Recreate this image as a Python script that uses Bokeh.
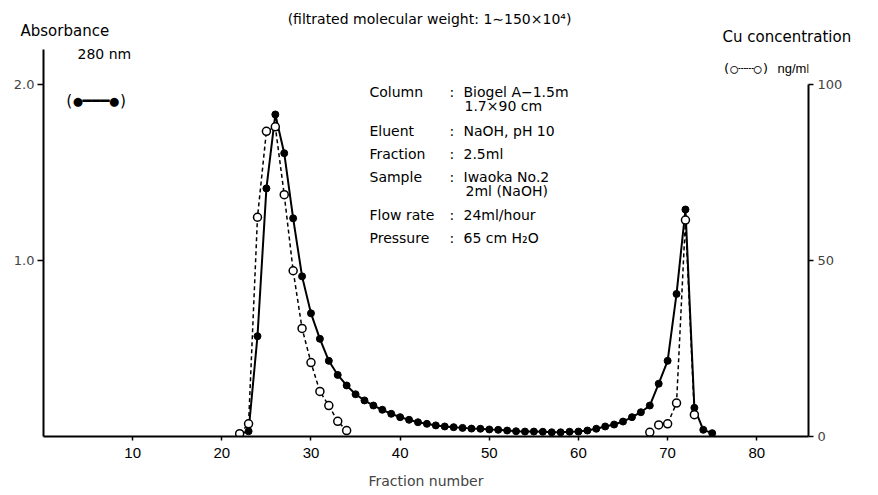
import math
from bokeh.plotting import figure
from bokeh.models import Range1d, LinearAxis, FixedTicker, Label, Title
from bokeh.embed import file_html
from bokeh.resources import INLINE

# ---------------- data ----------------
fractions = list(range(22, 76))
absorbance = [0.015, 0.03, 0.57, 1.41, 1.83, 1.61, 1.24, 0.91, 0.70, 0.555,
              0.43, 0.35, 0.29, 0.24, 0.205, 0.176, 0.152, 0.129, 0.11, 0.095,
              0.081, 0.072, 0.063, 0.057, 0.053, 0.049, 0.045, 0.044, 0.040, 0.038,
              0.034, 0.030, 0.028, 0.028, 0.027, 0.024, 0.024, 0.027, 0.028, 0.034,
              0.044, 0.057, 0.068, 0.085, 0.11, 0.138, 0.176, 0.30, 0.43, 0.81,
              1.29, 0.163, 0.038, 0.019]
cu_fractions = [22, 23, 24, 25, 26, 27, 28, 29, 30, 31, 32, 33, 34,
                68, 69, 70, 71, 72, 73]
cu_conc = [0.8, 3.6, 62.3, 86.7, 88.0, 68.7, 47.1, 30.7, 21.0, 12.8, 8.8, 4.3, 1.7,
           1.2, 3.3, 3.6, 9.5, 61.5, 6.2]

x_ticks = [10, 20, 30, 40, 50, 60, 70, 80]
abs_ticks = [1.0, 2.0]
cu_ticks = [0, 50, 100]

# ---------------- layout ----------------
W, H = 878, 495
FL, FR, FT, FB = 43, 808, 45, 436
X_END = 85.8
Y_END = 2.222
CU_END = 111.1

p = figure(width=W, height=H, output_backend="svg", toolbar_location=None,
           title=None,
           x_range=Range1d(0, X_END), y_range=Range1d(0, Y_END),
           min_border_left=FL, min_border_right=W - FR,
           min_border_top=FT, min_border_bottom=H - FB)
p.extra_y_ranges = {"cu": Range1d(0, CU_END)}
p.background_fill_color = "white"
p.border_fill_color = "white"
p.outline_line_color = None
p.xgrid.visible = False
p.ygrid.visible = False

TICK_FONT = "DejaVu Sans"

xa = p.xaxis[0]
xa.ticker = FixedTicker(ticks=x_ticks)
xa.axis_line_width = 2
xa.major_tick_line_width = 1.5
xa.major_tick_in = 0
xa.major_tick_out = 4
xa.minor_tick_line_color = None
xa.major_label_standoff = 7
xa.major_label_text_font = "Liberation Sans"
xa.major_label_text_font_size = "15px"
xa.major_label_text_color = "black"
xa.axis_label = "Fraction number"
xa.axis_label_text_font = "DejaVu Sans"
xa.axis_label_text_font_size = "14px"
xa.axis_label_text_font_style = "normal"
xa.axis_label_standoff = 12

ya = p.yaxis[0]
ya.ticker = FixedTicker(ticks=abs_ticks)
ya.bounds = (0, 2.2)
ya.axis_line_width = 2
ya.major_tick_line_width = 1.5
ya.major_tick_in = 0
ya.major_tick_out = 6
ya.minor_tick_line_color = None
ya.major_label_standoff = 3
ya.major_label_text_font = TICK_FONT
ya.major_label_text_font_size = "13px"
ya.major_label_overrides = {1.0: "1.0", 2.0: "2.0"}

ra = LinearAxis(y_range_name="cu", ticker=FixedTicker(ticks=cu_ticks))
ra.bounds = (0, 100)
ra.axis_line_width = 2
ra.major_tick_line_width = 1.5
ra.major_tick_in = 0
ra.major_tick_out = 5
ra.minor_tick_line_color = None
ra.major_label_standoff = 4
ra.major_label_text_font = TICK_FONT
ra.major_label_text_font_size = "13px"
p.add_layout(ra, "right")

# ---------------- series ----------------
p.line(fractions, absorbance, line_color="black", line_width=2)

seg_x, seg_y = [[]], [[]]
for i, (f, c) in enumerate(zip(cu_fractions, cu_conc)):
    if i > 0 and f - cu_fractions[i - 1] > 1:
        seg_x.append([])
        seg_y.append([])
    seg_x[-1].append(f)
    seg_y[-1].append(c)
p.multi_line(seg_x, seg_y, line_color="black", line_width=1.5,
             line_dash="4 3", y_range_name="cu")

p.scatter(fractions, absorbance, size=7, fill_color="black", line_color="black")
p.scatter(cu_fractions, cu_conc, size=8, fill_color="white", line_color="black",
          line_width=1.5, y_range_name="cu")

# ---------------- texts above the frame (top panel, stacked from the frame) ----------------
# row 1: Cu concentration (title, top-aligned, ~14 px row)
p.add_layout(Title(text="Cu concentration", align="left", offset=722 - FL,
                   vertical_align="top", standoff=-5,
                   text_font="DejaVu Sans", text_font_size="15px",
                   text_font_style="normal", text_color="black"), "above")
# row 2: Absorbance (title with a zero-height row)
p.add_layout(Title(text="Absorbance", align="left", offset=20 - FL,
                   vertical_align="bottom", standoff=-19,
                   text_font="DejaVu Sans", text_font_size="15px",
                   text_font_style="normal", text_color="black"), "above")
# row 3: heading, placed relative to its row bottom (~31 px from canvas top)
p.add_layout(Label(x=429 - FL, y=31 - 20, x_units="screen", y_units="screen",
                   text="(filtrated molecular weight: 1\u223c150\u00d710\u2074)",
                   text_font="DejaVu Sans", text_font_size="14px",
                   text_align="center", text_baseline="middle", text_color="black"),
             "above")

# ---------------- texts inside the frame ----------------
def lab(text, px, py, size, font="DejaVu Sans", align="left"):
    p.add_layout(Label(x=px - FL, y=FB - py, x_units="screen", y_units="screen",
                       text=text, text_font=font, text_font_size=f"{size}px",
                       text_align=align, text_baseline="middle", text_color="black"))

lab("280 nm", 77, 53, 14)
lab("(\u25cf\u2501\u2501\u2501\u25cf)", 64, 100, 15, font="DejaVu Sans Mono")
lab("(\u25cb\u2504\u2504\u25cb)", 722, 68, 13, font="DejaVu Sans Mono")
lab("ng/ml", 777, 68, 13, font="Liberation Sans")

rows = [("Column", ":", "Biogel A\u22121.5m", 91),
        ("Eluent", ":", "NaOH, pH 10", 130),
        ("Fraction", ":", "2.5ml", 153),
        ("Sample", ":", "Iwaoka No.2", 176),
        ("Flow rate", ":", "24ml/hour", 214),
        ("Pressure", ":", "65 cm H\u2082O", 237)]
for name, colon, val, yy in rows:
    lab(name, 369, yy, 14)
    lab(colon, 449, yy, 14)
    lab(val, 463, yy, 14)
lab("1.7\u00d790 cm", 464, 105, 14)
lab("2ml (NaOH)", 465, 190, 14)

open("out.html", "w").write(file_html(p, INLINE))
